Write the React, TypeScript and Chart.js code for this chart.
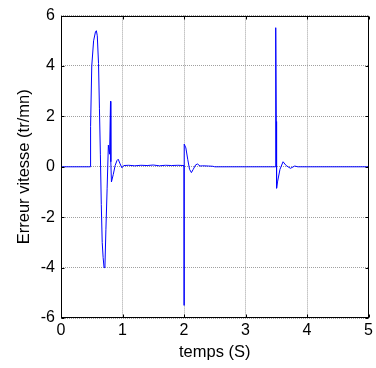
import React, { useEffect, useRef } from "react";
import { Chart, registerables } from "chart.js";

Chart.register(...registerables);

const timeS: number[] = [
  0, 0.48, 0.481, 0.5, 0.53, 0.56, 0.575, 0.59, 0.61, 0.625, 0.64, 0.655, 0.67, 0.685, 0.7, 0.715,
  0.73, 0.75, 0.77, 0.79, 0.805, 0.81, 0.82, 0.85, 0.88, 0.91, 0.93, 0.96, 0.99, 1.02,
  1.1, 1.2, 1.3, 1.4, 1.5, 1.6, 1.7, 1.8, 1.9, 1.999,
  2.0, 2.003, 2.03, 2.06, 2.09, 2.12, 2.15, 2.19, 2.22, 2.26, 2.3, 2.4, 2.47, 2.5,
  3.49, 3.491, 3.5, 3.505, 3.52, 3.56, 3.61, 3.66, 3.73, 3.8, 3.85, 5.0,
];
const erreurVitesse: number[] = [
  0, 0, 1.6, 4.0, 5.0, 5.35, 5.4, 5.2, 4.1, 2.3, 0.5, -1.5, -3.0, -3.6, -4.0, -3.9,
  -2.5, -0.85, 0.86, 0.5, 2.6, 0.2, -0.6, -0.3, 0.05, 0.25, 0.3, 0.12, -0.04, 0.05,
  0.06, 0.04, 0.06, 0.05, 0.07, 0.04, 0.06, 0.05, 0.06, 0.05,
  -5.5, 0.9, 0.75, 0.3, -0.1, -0.23, -0.1, 0.08, 0.11, 0.03, 0.04, 0.03, 0.02, 0,
  0, 5.52, 1.8, -0.85, -0.6, -0.1, 0.2, 0.05, -0.06, 0.03, 0, 0,
];
const xTicks: number[] = [0, 1, 2, 3, 4, 5];
const yTicks: number[] = [-6, -4, -2, 0, 2, 4, 6];

const framePlugin = {
  id: "frame",
  afterDraw(chart: any) {
    const { ctx, chartArea } = chart;
    const l = Math.round(chartArea.left) + 0.5;
    const r = Math.round(chartArea.right) - 0.5;
    const t = Math.round(chartArea.top) + 0.5;
    const b = Math.round(chartArea.bottom) - 0.5;
    ctx.save();
    ctx.strokeStyle = "#000";
    ctx.lineWidth = 1;
    ctx.strokeRect(l, t, r - l, b - t);
    const tl = 3;
    ctx.beginPath();
    xTicks.forEach((v) => {
      const px = Math.round(chart.scales.x.getPixelForValue(v)) + 0.5;
      ctx.moveTo(px, b);
      ctx.lineTo(px, b - tl);
      ctx.moveTo(px, t);
      ctx.lineTo(px, t + tl);
    });
    yTicks.forEach((v) => {
      const py = Math.round(chart.scales.y.getPixelForValue(v)) + 0.5;
      ctx.moveTo(l, py);
      ctx.lineTo(l + tl, py);
      ctx.moveTo(r, py);
      ctx.lineTo(r - tl, py);
    });
    ctx.stroke();
    ctx.restore();
  },
};

export default function App() {
  const ref = useRef<HTMLCanvasElement>(null);
  useEffect(() => {
    document.body.style.margin = "0";
    const family = "'Liberation Sans', Arial, sans-serif";
    const tickFont = { family, size: 16 };
    const titleFont = { family, size: 16.5 };
    const chart = new Chart(ref.current!, {
      type: "line",
      data: {
        datasets: [
          {
            data: timeS.map((t, i) => ({ x: t, y: erreurVitesse[i] })),
            borderColor: "#0000ff",
            borderWidth: 1,
            pointRadius: 0,
            tension: 0,
            fill: false,
          },
        ],
      },
      options: {
        responsive: false,
        animation: false,
        events: [],
        layout: { padding: { top: 12, right: 7, left: 0, bottom: 0 } },
        plugins: { legend: { display: false }, tooltip: { enabled: false } },
        scales: {
          x: {
            type: "linear",
            min: 0,
            max: 5,
            afterBuildTicks: (s: any) => {
              s.ticks = xTicks.map((v) => ({ value: v }));
            },
            afterFit: (s: any) => {
              s.height = 50;
            },
            ticks: { color: "#000", font: tickFont, padding: 3, maxRotation: 0 },
            grid: { color: "#a0a0a0", drawTicks: false, lineWidth: 1 },
            border: { display: false, dash: [1, 1] },
            title: {
              display: true,
              text: "temps (S)",
              color: "#000",
              font: titleFont,
              padding: { top: 0, bottom: 6 },
            },
          },
          y: {
            type: "linear",
            min: -6,
            max: 6,
            afterBuildTicks: (s: any) => {
              s.ticks = yTicks.map((v) => ({ value: v }));
            },
            afterFit: (s: any) => {
              s.width = 61;
            },
            ticks: { color: "#000", font: tickFont, padding: 6 },
            grid: { color: "#a0a0a0", drawTicks: false, lineWidth: 1 },
            border: { display: false, dash: [1, 1] },
            title: {
              display: true,
              text: "Erreur vitesse (tr/mn)",
              color: "#000",
              font: titleFont,
              padding: { top: 15, bottom: 0 },
            },
          },
        },
      },
      plugins: [framePlugin],
    });
    return () => chart.destroy();
  }, []);
  return (
    <div style={{ width: 376, height: 368, background: "#fff" }}>
      <canvas ref={ref} width={376} height={368} />
    </div>
  );
}
